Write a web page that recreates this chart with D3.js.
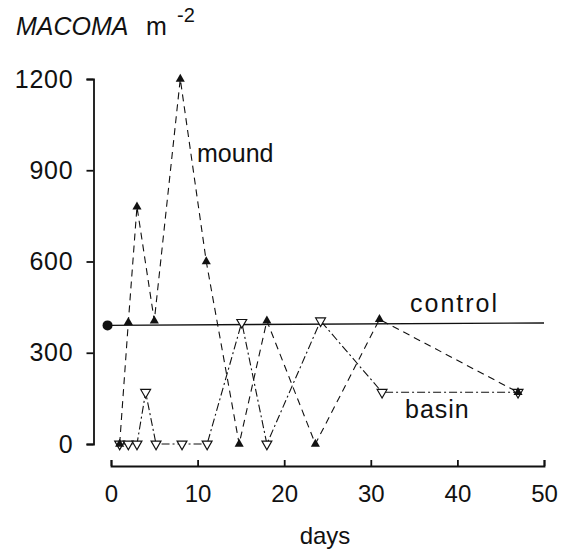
<!DOCTYPE html>
<html>
<head>
<meta charset="utf-8">
<script src="https://cdn.jsdelivr.net/npm/d3@7"></script>
<style>
  body { margin: 0; background: #fff; }
  svg text { font-family: "Liberation Sans", Arial, sans-serif; fill: #111; }
</style>
</head>
<body>
<div id="chart"></div>
<script>
const width = 563, height = 549;

// values (days, individuals per m2)
const controlDays = [-0.4, 50];
const controlVals = [390, 398];

const moundDays = [1, 2, 3, 5, 8, 11, 14.8, 18, 23.6, 31, 47];
const moundVals = [0, 400, 780, 405, 1200, 600, 0, 405, 0, 410, 170];

const basinDays = [1, 2, 3, 4, 5.2, 8.2, 11.1, 15.1, 18, 24.2, 31.3, 47];
const basinVals = [0, 0, 0, 170, 0, 0, 0, 400, 0, 405, 170, 170];

const xTicks = [0, 10, 20, 30, 40, 50];
const yTicks = [0, 300, 600, 900, 1200];

const x = d3.scaleLinear().domain([0, 50]).range([111, 544]);
const y = d3.scaleLinear().domain([0, 1200]).range([444, 79]);

const svg = d3.select("#chart").append("svg")
    .attr("width", width)
    .attr("height", height);

// axes
const yAxis = svg.append("g")
    .attr("transform", "translate(93.5,0)")
    .call(d3.axisLeft(y).tickValues(yTicks).tickSize(7).tickPadding(13).tickFormat(d3.format("d")));
yAxis.select(".domain").attr("stroke-width", 1.8);
yAxis.selectAll(".tick line").attr("stroke-width", 1.8);
yAxis.selectAll("text").attr("font-size", 25).attr("letter-spacing", 0.8);

const xAxis = svg.append("g")
    .attr("transform", "translate(0,466)")
    .call(d3.axisBottom(x).tickValues(xTicks).tickSize(-6).tickPadding(19));
xAxis.select(".domain").attr("stroke-width", 1.8);
xAxis.selectAll(".tick line").attr("stroke-width", 1.8);
xAxis.selectAll("text").attr("font-size", 24);

svg.selectAll(".domain, .tick line").attr("stroke", "#111");
svg.selectAll(".tick text").attr("fill", "#111");

// lines
const line = d3.line().x(d => x(d[0])).y(d => y(d[1]));

svg.append("path")
    .datum(d3.zip(controlDays, controlVals))
    .attr("d", line)
    .attr("fill", "none")
    .attr("stroke", "#111")
    .attr("stroke-width", 1.4);

svg.append("path")
    .datum(d3.zip(basinDays, basinVals))
    .attr("d", line)
    .attr("fill", "none")
    .attr("stroke", "#111")
    .attr("stroke-width", 1.1)
    .attr("stroke-dasharray", "8,3,2,3");

svg.append("path")
    .datum(d3.zip(moundDays, moundVals))
    .attr("d", line)
    .attr("fill", "none")
    .attr("stroke", "#111")
    .attr("stroke-width", 1.1)
    .attr("stroke-dasharray", "7,5");

// markers
svg.append("circle")
    .attr("cx", x(controlDays[0]))
    .attr("cy", y(controlVals[0]))
    .attr("r", 5)
    .attr("fill", "#111");

const triangle = d3.symbol().type(d3.symbolTriangle);

svg.append("g").selectAll("path")
    .data(d3.zip(basinDays, basinVals))
    .join("path")
    .attr("d", triangle.size(42)())
    .attr("transform", d => `translate(${x(d[0])},${y(d[1])}) rotate(180)`)
    .attr("fill", "#fff")
    .attr("stroke", "#111")
    .attr("stroke-width", 1.2);

svg.append("g").selectAll("path")
    .data(d3.zip(moundDays, moundVals))
    .join("path")
    .attr("d", triangle.size(36)())
    .attr("transform", d => `translate(${x(d[0])},${y(d[1])})`)
    .attr("fill", "#111");

// series labels
svg.append("text").attr("x", 197).attr("y", 162).attr("font-size", 25).text("mound");
svg.append("text").attr("x", 410).attr("y", 312).attr("font-size", 25).attr("letter-spacing", 2).text("control");
svg.append("text").attr("x", 405).attr("y", 418).attr("font-size", 25).attr("letter-spacing", 1).text("basin");

// axis titles
svg.append("text")
    .attr("x", 325).attr("y", 544)
    .attr("text-anchor", "middle")
    .attr("font-size", 24)
    .text("days");

const title = svg.append("text").attr("x", 16).attr("y", 35).attr("font-size", 25);
title.append("tspan").attr("font-style", "italic").text("MACOMA");
title.append("tspan").attr("x", 146).text("m");
title.append("tspan").attr("x", 177).attr("y", 22).attr("font-size", 20).text("-2");
</script>
</body>
</html>
